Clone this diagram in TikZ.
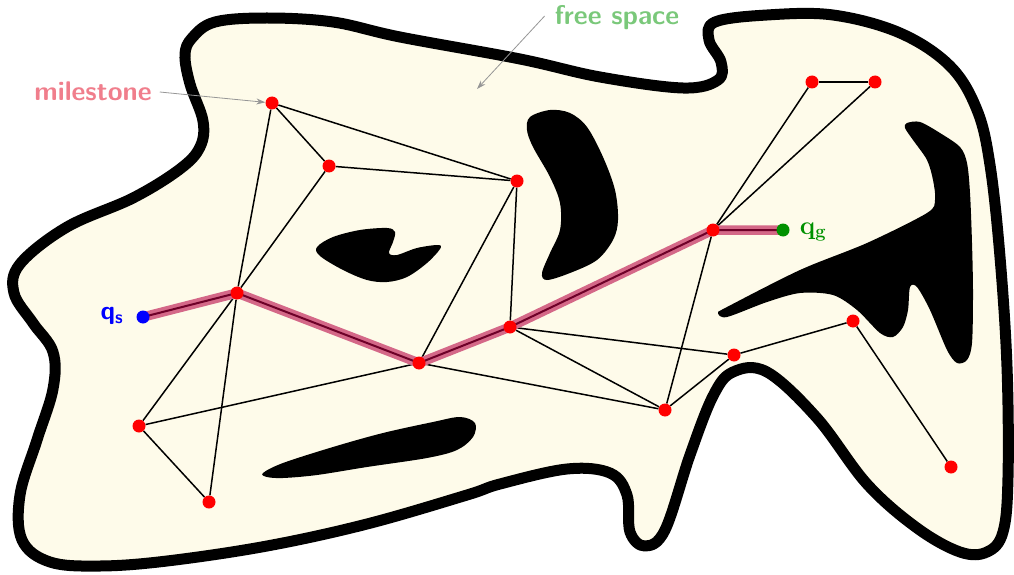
\documentclass[tikz,border=0pt]{standalone}
\usetikzlibrary{arrows.meta}
\definecolor{freecol}{RGB}{254,251,234}
\definecolor{pathcol}{RGB}{212,104,136}
\definecolor{pathdark}{RGB}{110,0,40}
\definecolor{mscol}{RGB}{240,126,140}
\definecolor{fscol}{RGB}{122,200,122}
\definecolor{goalcol}{RGB}{0,145,0}
\definecolor{lblarrowcol}{RGB}{150,150,150}
\pgfdeclarelayer{bg}
\pgfdeclarelayer{mid}
\pgfsetlayers{bg,mid,main}
\begin{document}
\begin{tikzpicture}[x=1pt,y=-1pt,
  ms/.style={circle,fill=red,inner sep=0pt,minimum size=13pt},
  startdot/.style={circle,fill=blue,inner sep=0pt,minimum size=13pt},
  goaldot/.style={circle,fill=goalcol,inner sep=0pt,minimum size=13pt},
  edge/.style={draw=black,line width=1.5pt},
  pathbg/.style={draw=pathcol,line width=9.5pt,line cap=butt,line join=round},
  pathfg/.style={draw=pathdark,line width=2pt,line join=round},
  outline/.style={draw=black,line width=11pt,fill=freecol,line join=round},
  obstacle/.style={fill=black},
  lblarrow/.style={draw=lblarrowcol,line width=0.8pt,-{Stealth[length=9pt,width=6pt]}},
  lbltext/.style={font=\fontsize{27}{32}\selectfont\sffamily\bfseries,inner sep=0pt}
]
\useasboundingbox (0,0) rectangle (1014,575);

% milestones
\node[ms] (A) at (272,103) {};
\node[ms] (B) at (329,166) {};
\node[ms] (C) at (517,181) {};
\node[ms] (D) at (237,293) {};
\node[ms] (E) at (419,363) {};
\node[ms] (F) at (510,327) {};
\node[ms] (G) at (713,230) {};
\node[ms] (H) at (812,82) {};
\node[ms] (I) at (875,82) {};
\node[ms] (J) at (139,426) {};
\node[ms] (K) at (209,502) {};
\node[ms] (L) at (665,410) {};
\node[ms] (M) at (734,355) {};
\node[ms] (N) at (853,321) {};
\node[ms] (O) at (951,467) {};
\node[startdot] (qs) at (143,317) {};
\node[goaldot] (qg) at (783,230) {};

% labels
\node[lbltext,text=mscol] (mslabel) at (93,91) {milestone};
\node[lbltext,text=fscol] (fslabel) at (617,18) {free space};
\coordinate (fsend) at (477,89);
\node[inner sep=0pt,text=blue,font=\fontsize{26}{30}\selectfont\sffamily\bfseries] (qslabel) at (112,316) {q\textsubscript{s}};
\node[inner sep=0pt,text=goalcol,font=\fontsize{26}{30}\selectfont\bfseries] (qglabel) at (813,232) {q\textsubscript{g}};

\draw[lblarrow] ([xshift=8pt,yshift=-1pt]mslabel.east) -- (A);
\draw[lblarrow] ([xshift=-10pt,yshift=2pt]fslabel.west) -- (fsend);

\begin{pgfonlayer}{bg}
\draw[outline] plot[smooth cycle,tension=0.6] coordinates {
 (192,38) (215,22) (267,18) (333,22) (400,37) (520,59) (600,77) (683,88)
 (718,80) (721,62) (709,40) (715,22) (767,15) (833,15) (900,33) (950,66)
 (977,110) (990,165) (1000,257) (1007,367) (1008,477) (1003,532) (987,552)
 (960,552) (917,528) (867,484) (817,418) (767,372) (733,372) (713,396)
 (690,455) (665,530) (645,546) (630,532) (627,495) (610,473) (567,469)
 (500,484) (467,495) (367,524) (267,546) (167,561) (100,566) (50,562)
 (22,540) (20,495) (37,440) (53,389) (53,352) (33,323) (14,293) (20,264)
 (67,227) (133,198) (180,169) (200,147) (203,121) (190,84) (185,55)};
% obstacle 1
\fill[obstacle] plot[smooth cycle,tension=0.55] coordinates {
 (317,247) (333,237) (360,230) (387,228) (395,232) (393,242) (389,253)
 (397,255) (417,248) (438,245) (440,249) (427,263) (407,277) (387,282)
 (367,280) (343,270) (320,256)};
% obstacle 2 (crescent)
\fill[obstacle] plot[smooth cycle,tension=0.55] coordinates {
 (530,117) (550,110) (570,113) (587,127) (603,157) (615,190) (618,220)
 (613,240) (597,260) (570,273) (547,280) (542,273) (550,253) (560,230)
 (560,203) (550,177) (533,147) (527,130)};
% obstacle 3 (long)
\fill[obstacle] plot[smooth cycle,tension=0.55] coordinates {
 (263,473) (283,463) (333,447) (383,433) (433,422) (460,417) (475,423)
 (473,437) (457,450) (427,458) (367,467) (317,475) (283,478) (267,477)};
% obstacle 4 (right)
\fill[obstacle] plot[smooth cycle,tension=0.5] coordinates {
 (907,123) (920,122) (940,133) (960,147) (967,163) (970,193) (972,243)
 (973,293) (972,343) (967,360) (957,363) (947,350) (930,310) (917,287)
 (910,287) (908,310) (903,327) (893,337) (880,333) (857,310) (833,295)
 (800,293) (767,302) (727,317) (718,313) (727,307) (800,270) (867,243)
 (927,213) (935,200) (933,180) (927,160) (913,140) (905,128)};
\end{pgfonlayer}

\begin{pgfonlayer}{mid}
\draw[edge] (A) -- (B);
\draw[edge] (A) -- (C);
\draw[edge] (A) -- (D);
\draw[edge] (B) -- (C);
\draw[edge] (B) -- (D);
\draw[edge] (C) -- (E);
\draw[edge] (C) -- (F);
\draw[edge] (D) -- (J);
\draw[edge] (D) -- (K);
\draw[edge] (J) -- (K);
\draw[edge] (J) -- (E);
\draw[edge] (E) -- (L);
\draw[edge] (F) -- (L);
\draw[edge] (F) -- (M);
\draw[edge] (G) -- (H);
\draw[edge] (G) -- (I);
\draw[edge] (H) -- (I);
\draw[edge] (G) -- (L);
\draw[edge] (L) -- (M);
\draw[edge] (M) -- (N);
\draw[edge] (N) -- (O);
\draw[pathbg] (qs.center) -- (D.center) -- (E.center) -- (F.center) -- (G.center) -- (qg.center);
\draw[pathfg] (qs.center) -- (D.center) -- (E.center) -- (F.center) -- (G.center) -- (qg.center);
\end{pgfonlayer}
\end{tikzpicture}
\end{document}
